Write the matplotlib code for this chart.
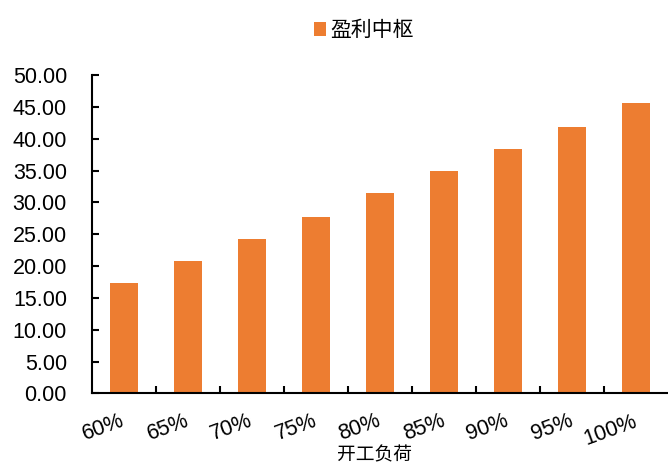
import matplotlib
matplotlib.use("Agg")
import matplotlib.pyplot as plt
import numpy as np

plt.rcParams['font.family'] = ['Liberation Sans', 'Noto Sans CJK SC']

# operating load vs. profit centre
loads = ["60%", "65%", "70%", "75%", "80%", "85%", "90%", "95%", "100%"]
profit = [17.35, 20.8, 24.25, 27.7, 31.5, 34.9, 38.4, 41.8, 45.6]

fig = plt.figure(figsize=(6.68, 4.66), dpi=100)
ax = fig.add_axes([0.1377, 0.1556, 0.8623, 0.6835])

x = np.arange(len(loads))
ax.bar(x, profit, width=0.45, color="#ED7D31", label="盈利中枢", zorder=2)

ax.set_xlim(-0.5, len(loads) - 0.5)
ax.set_ylim(0, 50)
ax.set_yticks(np.arange(0, 50.1, 5))
ax.set_yticklabels([f"{v:.2f}" for v in np.arange(0, 50.1, 5)], fontsize=15.5)
ax.tick_params(axis='y', direction='in', length=5, width=1.5, pad=18)

ax.set_xticks(x)
ax.set_xticklabels(loads, fontsize=15.5, rotation=20, ha='right', va='center',
                   rotation_mode='anchor')
ax.set_xticks(np.arange(0.5, len(loads) - 0.5, 1), minor=True)
ax.tick_params(axis='x', which='major', length=0, pad=19.5)
ax.tick_params(axis='x', which='minor', direction='in', length=5, width=1.5)
ax.set_xlabel("开工负荷", fontsize=13.5, labelpad=0)
ax.xaxis.set_label_coords(0.49, -0.168)

for s in ['top', 'right']:
    ax.spines[s].set_visible(False)
for s in ['left', 'bottom']:
    ax.spines[s].set_linewidth(1.5)

fig.legend(loc='upper center', bbox_to_anchor=(0.545, 0.995), frameon=False,
           fontsize=15, handlelength=0.6, handleheight=0.6, handletextpad=0.2)

fig.savefig("out.png", dpi=100)
